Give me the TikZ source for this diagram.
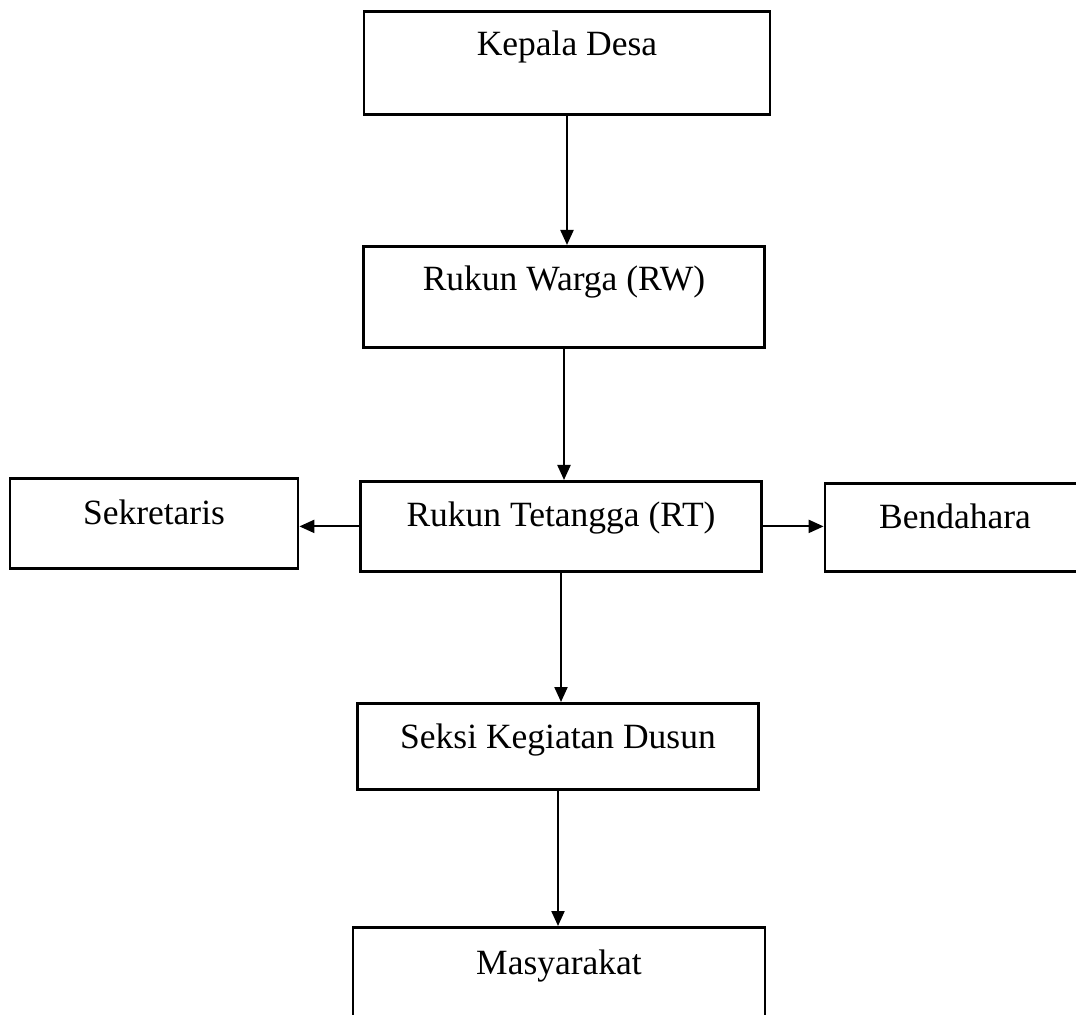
\documentclass[tikz,border=0pt]{standalone}
\usepackage{fontspec}
\setmainfont{Liberation Serif}
\usetikzlibrary{arrows.meta}

\begin{document}
\begin{tikzpicture}[x=0.5pt, y=-0.5pt,
  kotak/.style={draw, line width=1.4pt, inner xsep=0pt, inner ysep=0pt,
    anchor=north, font=\fontsize{17.75}{21}\selectfont},
  panah/.style={-{Triangle[length=7.5pt,width=6.5pt]}, line width=1.1pt}]
\useasboundingbox (0,0) rectangle (1076,1015);
\clip (0,0) rectangle (1076,1015);

 % kotak-kotak
 \node[kotak, minimum width=203pt, text height=22pt, text depth=29.5pt] (kades) at (567,10) {Kepala Desa};
 \node[kotak, minimum width=200.5pt, text height=22pt, text depth=28.5pt] (rw) at (564,245) {Rukun Warga (RW)};
 \node[kotak, minimum width=200.5pt, text height=22.5pt, text depth=22.5pt] (rt) at (561,480) {Rukun Tetangga (RT)};
 \node[kotak, minimum width=144pt, text height=23pt, text depth=22pt] (sekre) at (154,477) {Sekretaris};
 \node[kotak, minimum width=130pt, text height=22.5pt, text depth=21.5pt] (benda) at (955,482) {Bendahara};
 \node[kotak, minimum width=200.5pt, text height=22.5pt, text depth=20.5pt] (seksi) at (558,702) {Seksi Kegiatan Dusun};
 \node[kotak, minimum width=206pt, text height=23.5pt, text depth=26.5pt] (masy) at (559,926) {Masyarakat};

 % panah
 \draw[panah] (kades.south) -- (kades.south |- rw.north);
 \draw[panah] (rw.south) -- (rw.south |- rt.north);
 \draw[panah] (rt.west) -- (rt.west -| sekre.east);
 \draw[panah] (rt.east) -- (rt.east -| benda.west);
 \draw[panah] (rt.south) -- (rt.south |- seksi.north);
 \draw[panah] (seksi.south) -- (seksi.south |- masy.north);

\end{tikzpicture}
\end{document}
